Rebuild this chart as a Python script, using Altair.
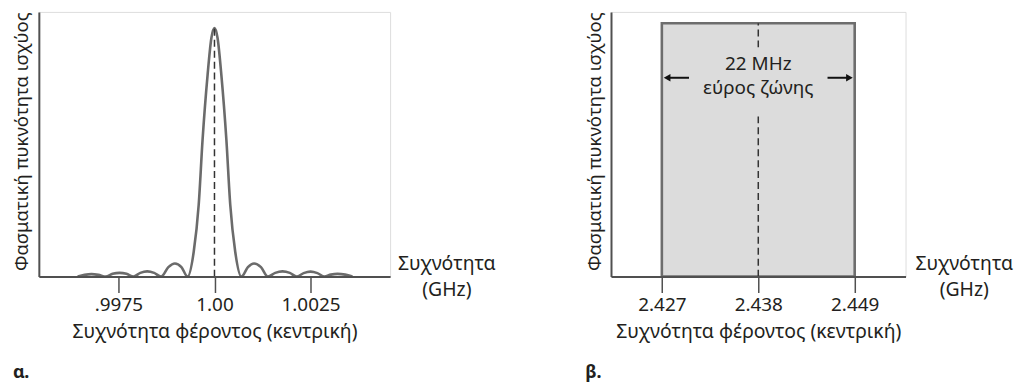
import altair as alt
import pandas as pd

FONT = "Noto Sans"
TXT = "#231f20"
AX = "#505050"
CURVE = "#6b6b6b"

# ---------- panel a: spectrum of a carrier around 1.00 GHz ----------
spec_freq = [0.99644, 0.99662, 0.99680, 0.99698, 0.99717, 0.99735, 0.99753, 0.99771,
             0.99789, 0.99807, 0.99825, 0.99843, 0.99861, 0.99880, 0.99897, 0.99914,
             0.99930, 0.99946, 0.99959, 0.99969, 0.99982, 0.99992, 1.00000,
             1.00008, 1.00018, 1.00031, 1.00041, 1.00054, 1.00070, 1.00087, 1.00103,
             1.00121, 1.00139, 1.00158, 1.00177, 1.00196, 1.00214, 1.00232, 1.00250,
             1.00268, 1.00286, 1.00303, 1.00320, 1.00340, 1.00359]
spec_power = [0.000, 0.007, 0.010, 0.007, 0.000, 0.011, 0.015, 0.011,
              0.000, 0.015, 0.021, 0.015, 0.000, 0.038, 0.053, 0.038,
              0.000, 0.100, 0.290, 0.550, 0.810, 0.960, 1.000,
              0.960, 0.810, 0.550, 0.290, 0.100, 0.000, 0.038, 0.053,
              0.038, 0.000, 0.015, 0.021, 0.015, 0.000, 0.014, 0.020,
              0.014, 0.000, 0.008, 0.011, 0.008, 0.000]
a_ticks = [0.9975, 1.0, 1.0025]
a_tick_labels = [".9975", "1.00", "1.0025"]
a_center = 1.0
a_domain = [0.99543, 1.00457]

# ---------- panel b: 22 MHz channel ----------
b_low, b_center, b_high = 2.427, 2.438, 2.449
b_ticks = [2.427, 2.438, 2.449]
b_domain = [2.4212, 2.4548]
band_text = ["22 MHz", "εύρος ζώνης"]

y_title = "Φασματική πυκνότητα ισχύος"
x_title = "Συχνότητα φέροντος (κεντρική)"
freq_lines = ["Συχνότητα", "(GHz)"]

H = 266
W1 = 353
W2 = 296
FS = 19.5

def xaxis(values, label_expr=None, fmt=None):
    kw = dict(values=values, title=x_title, grid=False, tickSize=16, tickWidth=1.5,
              tickColor=AX, domainColor=AX, domainWidth=2, labelFontSize=19,
              labelColor=TXT, labelFont=FONT, labelPadding=3, titleFont=FONT,
              titleFontSize=FS, titleFontWeight="normal", titleColor=TXT,
              titlePadding=8, zindex=1)
    if label_expr:
        kw["labelExpr"] = label_expr
    if fmt:
        kw["format"] = fmt
    return alt.Axis(**kw)

def yaxis():
    return alt.Axis(title=y_title, labels=False, ticks=False, grid=False,
                    domainColor=AX, domainWidth=2, titleFont=FONT, titleFontSize=18.5,
                    titleFontWeight="normal", titleColor=TXT, titlePadding=7,
                    titleAnchor="end", zindex=1)

def freq_label(w):
    layers = []
    for text, dy in zip(freq_lines, [-13, 13]):
        layers.append(alt.Chart(pd.DataFrame({"t": [text]})).mark_text(
            font=FONT, fontSize=FS, color=TXT, align="center", baseline="middle").encode(
            text="t:N", x=alt.value(w), y=alt.value(H + dy)))
    return layers

# ---- panel a ----
spec = pd.DataFrame({"f": spec_freq, "p": spec_power})
expr = " : ".join(f"datum.value == {v} ? '{l}'" for v, l in zip(a_ticks[:-1], a_tick_labels[:-1])) + f" : '{a_tick_labels[-1]}'"

xa = alt.X("f:Q", scale=alt.Scale(domain=a_domain, nice=False, zero=False),
           axis=xaxis(a_ticks, label_expr=expr))
ya = alt.Y("p:Q", scale=alt.Scale(domain=[0, 1.065], nice=False), axis=yaxis())

curve = alt.Chart(spec).mark_line(color=CURVE, strokeWidth=2.6, interpolate="monotone").encode(x=xa, y=ya)
center_a = alt.Chart(pd.DataFrame({"f": [a_center], "p": [0.0], "p2": [max(spec_power)]})).mark_rule(
    color="#333333", strokeWidth=1.5, strokeDash=[7, 4]).encode(x="f:Q", y="p:Q", y2="p2:Q")

panel_a = alt.layer(curve, center_a, *freq_label(W1 + 57)).properties(
    width=W1, height=H,
    title=alt.TitleParams("α.", orient="bottom", anchor="start", frame="bounds",
                          font=FONT, fontSize=18, fontWeight="bold", color=TXT, offset=23))

# ---- panel b ----
ymax_b = 1.045
band = pd.DataFrame({"f": [b_low], "f2": [b_high], "p": [0.0], "p2": [1.0]})
xb = alt.X("f:Q", scale=alt.Scale(domain=b_domain, nice=False, zero=False),
           axis=xaxis(b_ticks, fmt=".3f"))
yb = alt.Y("p:Q", scale=alt.Scale(domain=[0, ymax_b], nice=False), axis=yaxis())

rect = alt.Chart(band).mark_rect(fill="#dcdcdc", stroke="#6d6d6d", strokeWidth=2.6).encode(
    x=xb, x2="f2:Q", y=yb, y2="p2:Q")
dash_b = alt.Chart(pd.DataFrame({"f": [b_center, b_center], "p": [0.0, 0.905], "p2": [0.64, 1.0]})).mark_rule(
    color="#333333", strokeWidth=1.5, strokeDash=[7, 4]).encode(x="f:Q", y="p:Q", y2="p2:Q")
txt_b = alt.Chart(pd.DataFrame({"f": [b_center, b_center], "p": [0.84, 0.743], "t": band_text})).mark_text(
    font=FONT, fontSize=19, color=TXT, align="center", baseline="middle").encode(x="f:Q", y="p:Q", text="t:N")
arrows = pd.DataFrame({"f": [b_low + 0.0031, b_high - 0.0031], "f2": [b_low + 0.0006, b_high - 0.0006],
                       "p": [0.785, 0.785]})
arrow_lines = alt.Chart(arrows).mark_rule(color="#111111", strokeWidth=2).encode(x="f:Q", x2="f2:Q", y="p:Q")
heads = pd.DataFrame({"f": [b_low + 0.0006, b_high - 0.0006], "p": [0.785, 0.785],
                      "s": ["triangle-left", "triangle-right"]})
arrow_heads = alt.Chart(heads).mark_point(filled=True, color="#111111", size=60, opacity=1).encode(
    x="f:Q", y="p:Q", shape=alt.Shape("s:N", scale=None))

panel_b = alt.layer(rect, dash_b, txt_b, arrow_lines, arrow_heads, *freq_label(W2 + 59)).properties(
    width=W2, height=H,
    title=alt.TitleParams("β.", orient="bottom", anchor="start", frame="bounds",
                          font=FONT, fontSize=18, fontWeight="bold", color=TXT, offset=23))

chart = alt.hconcat(panel_a, panel_b, spacing=88).properties(
    padding={"left": 4, "top": 2, "right": 0, "bottom": 0}
).configure_view(strokeWidth=0).configure(background="white")

chart.save("out.html", embed_options={"renderer": "svg", "actions": False})
